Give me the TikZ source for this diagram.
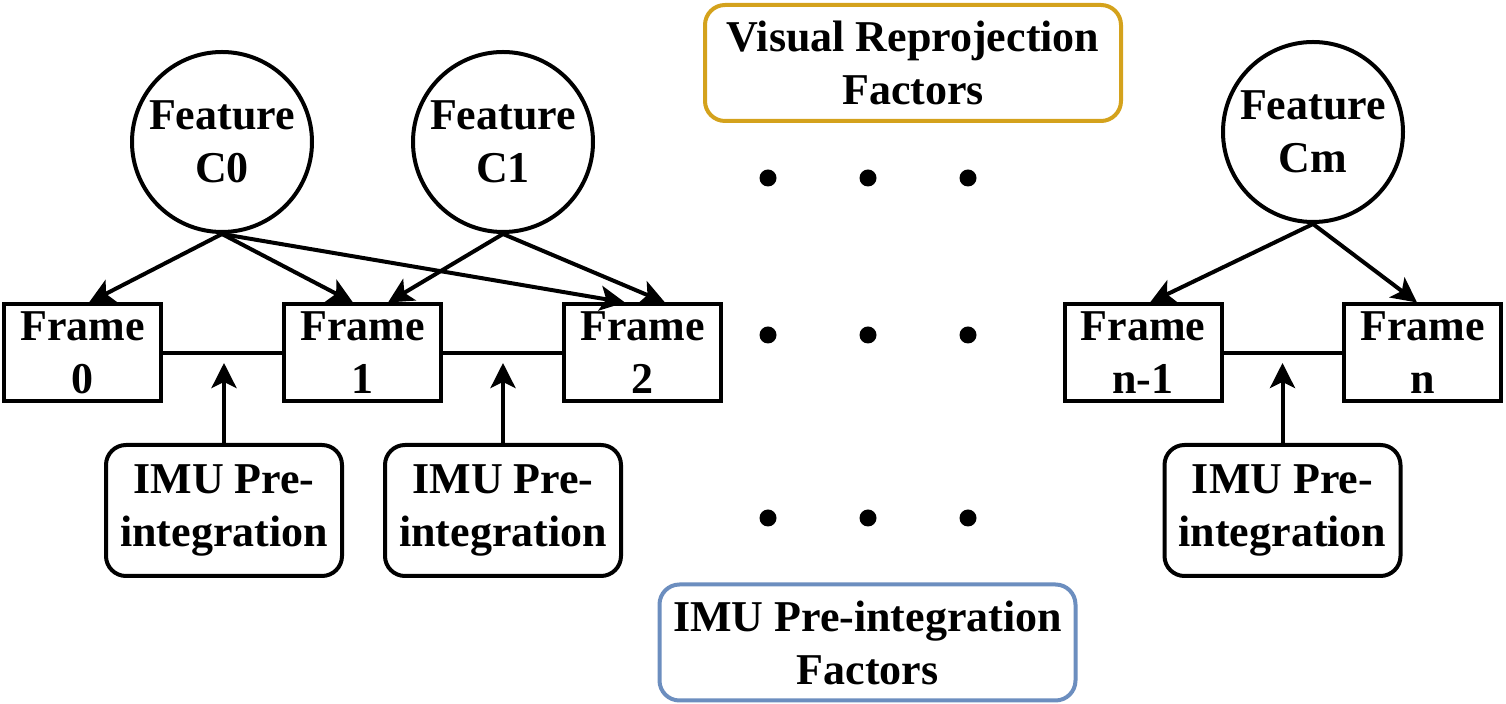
\documentclass[tikz,border=0pt]{standalone}
\usepackage{fontspec}
\setmainfont{Liberation Serif}
\newfontfamily\dfont{Liberation Serif}
\usetikzlibrary{arrows.meta}
\definecolor{goldline}{HTML}{D4A21C}
\definecolor{blueline}{HTML}{6C8EBF}
\newcommand{\diagfont}{\dfont\bfseries\fontsize{22}{26.5}\selectfont}
\tikzset{
  txt/.style={font=\diagfont, align=center, inner sep=0pt},
  lw/.style={line width=2pt},
  feat/.style={txt, lw, draw, circle, minimum size=90pt},
  frm/.style={txt, lw, draw, rectangle, minimum width=78.5pt, minimum height=48.5pt},
  imu/.style={txt, lw, draw, rectangle, rounded corners=10pt, minimum width=118pt, minimum height=65.5pt},
  factor/.style={txt, lw, draw, rectangle, rounded corners=10pt, minimum width=208pt, minimum height=58pt},
  arr/.style={lw, -{Stealth[length=12.5pt, width=12.5pt, inset=3pt]}},
  link/.style={lw},
  dotn/.style={circle, fill=black, minimum size=8.5pt, inner sep=0pt}
}
\begin{document}
\begin{tikzpicture}[x=0.5pt, y=-0.5pt]
\useasboundingbox (0,0) rectangle (1506,704);

% Features
\node[feat] (C0) at (222,142) {Feature\\C0};
\node[feat] (C1) at (503,142) {Feature\\C1};
\node[feat] (Cm) at (1313,132) {Feature\\Cm};

% Frames
\node[frm] (F0) at (82.5,353) {Frame\\0};
\node[frm] (F1) at (362.5,353) {Frame\\1};
\node[frm] (F2) at (642.5,353) {Frame\\2};
\node[frm] (Fn1) at (1143,353) {Frame\\n-1};
\node[frm] (Fn) at (1422.5,353) {Frame\\n};

% IMU boxes
\node[imu] (I1) at (224,510.5) {IMU Pre-\\integration};
\node[imu] (I2) at (503,510.5) {IMU Pre-\\integration};
\node[imu] (I3) at (1282.5,510.5) {IMU Pre-\\integration};

% Factor legends
\node[factor, draw=goldline] (VRF) at (913,63) {Visual Reprojection\\Factors};
\node[factor, draw=blueline] (IPF) at (867.5,642.5) {IMU Pre-integration\\Factors};

% Dots
\foreach \r/\yy in {a/178, b/335, c/518}{
  \foreach \c/\xx in {1/768, 2/868, 3/968}{
    \node[dotn] (dot\r\c) at (\xx,\yy) {};
  }
}

% Feature -> frame arrows
\draw[arr] (C0.south) -- ([xshift=3.25pt]F0.north);
\draw[arr] (C0.south) -- ([xshift=-4.75pt]F1.north);
\draw[arr] (C0.south) -- ([xshift=-8.75pt]F2.north);
\draw[arr] (C1.south) -- ([xshift=12.75pt]F1.north);
\draw[arr] (C1.south) -- ([xshift=11.25pt]F2.north);
\draw[arr] (Cm.south) -- ([xshift=3.5pt]Fn1.north);
\draw[arr] (Cm.south) -- ([xshift=-2.75pt]Fn.north);

% Frame links
\draw[link] (F0.east) -- (F1.west);
\draw[link] (F1.east) -- (F2.west);
\draw[link] (Fn1.east) -- (Fn.west);

% IMU arrows
\coordinate (m1) at (224,363);
\coordinate (m2) at (503,363);
\coordinate (m3) at (1282.5,363);
\draw[arr] (I1.north) -- (m1);
\draw[arr] (I2.north) -- (m2);
\draw[arr] (I3.north) -- (m3);
\end{tikzpicture}
\end{document}
